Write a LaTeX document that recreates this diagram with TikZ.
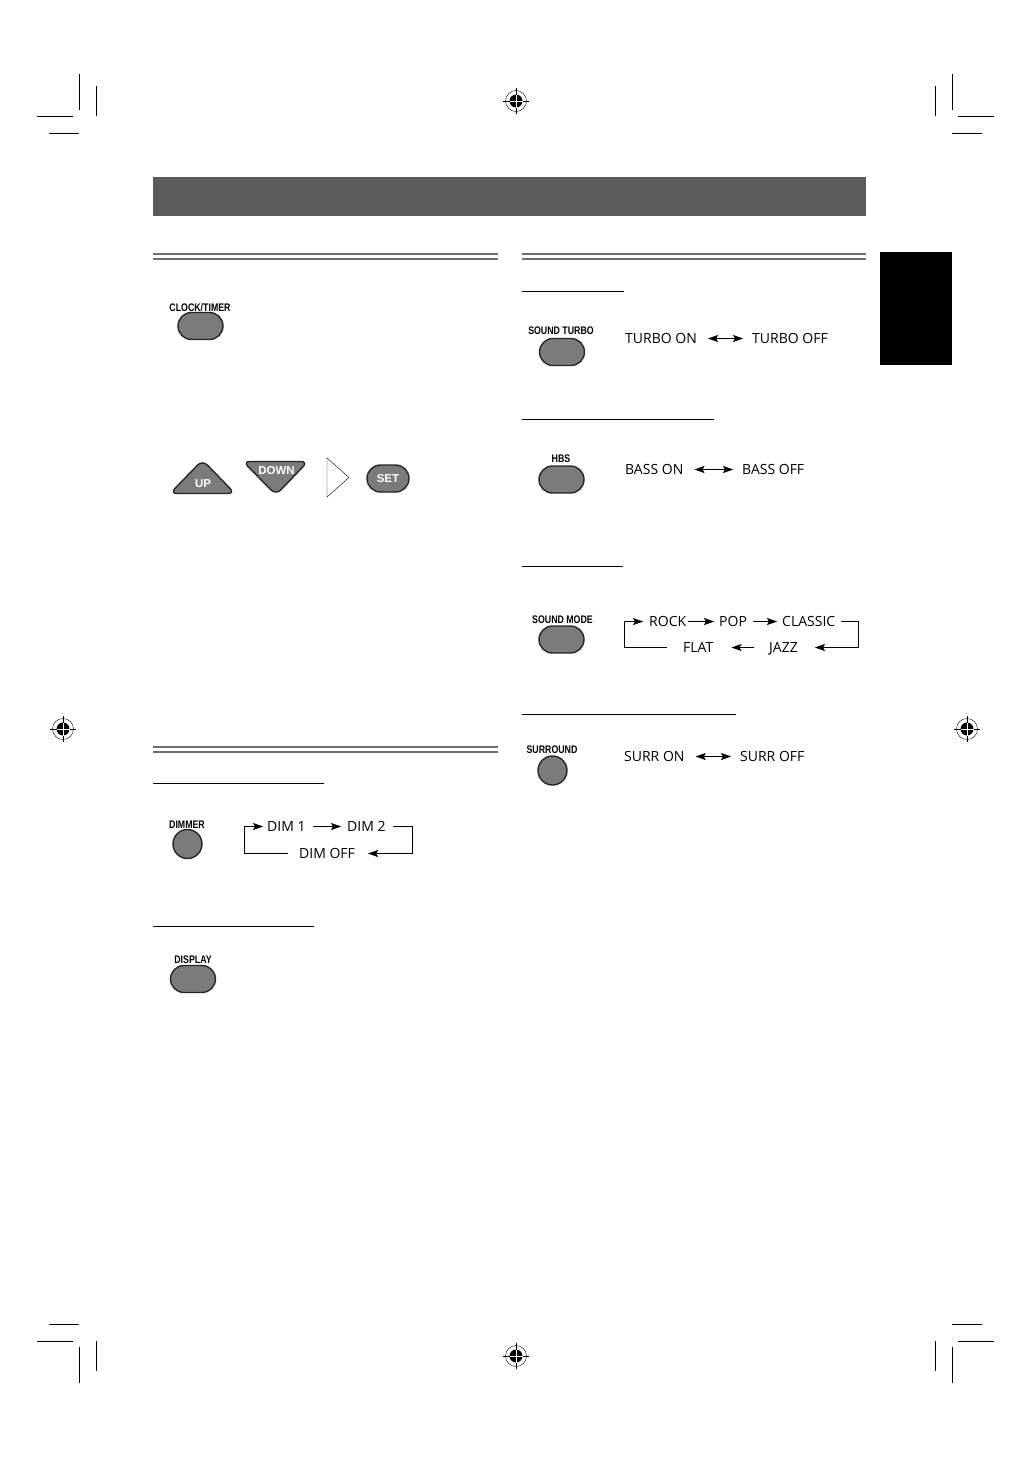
\documentclass[tikz,border=0pt]{standalone}
\usepackage{fontspec}
\setmainfont{Open Sans}
\newfontfamily\keyfont{Liberation Sans}[FakeStretch=0.8]
\newfontfamily\capfont{Liberation Sans}
\usetikzlibrary{arrows.meta,shapes.misc,positioning}
\definecolor{bargray}{HTML}{5B5B5B}
\definecolor{keygray}{HTML}{7B7B7B}
\definecolor{rulegray}{HTML}{6E6E6E}
\begin{document}
\begin{tikzpicture}[
                      x = 1pt, y = -1pt,
                      > = {Stealth[length=10pt,width=7pt,inset=2pt]},
        keyshape/.style = {draw=black!85, line width=1.4pt, fill=keygray},
             key/.style = {keyshape, rounded rectangle, minimum width=45pt,
                           minimum height=27pt, inner sep=0pt},
        roundkey/.style = {keyshape, circle, minimum size=29pt, inner sep=0pt},
         keyname/.style = {font=\keyfont\bfseries\fontsize{11}{11}\selectfont,
                           inner sep=0pt, anchor=base},
        keyinner/.style = {font=\capfont\bfseries\fontsize{11.5}{11.5}\selectfont,
                           text=white, inner sep=0pt},
        modetext/.style = {font=\fontsize{14}{14}\selectfont, inner sep=0pt,
                           text height=10pt, text depth=0pt, anchor=west},
     togglearrow/.style = {<->, thin, shorten <=11pt, shorten >=9pt},
        loopline/.style = {->, thin},
        thinrule/.style = {line width=1pt},
      doublerule/.style = {rulegray, line width=2pt},
            crop/.style = {line width=0.9pt},
            ]

    \useasboundingbox (0,0) rectangle (1032,1457);

    % crop marks in the four corners
    \foreach \sx/\sy/\ox/\oy in {1/1/0/0, -1/1/1031/0, 1/-1/0/1457, -1/-1/1031/1457}{
        \begin{scope}[shift={(\ox,\oy)}, xscale=\sx, yscale=\sy]
            \draw[crop] (79,74) -- (79,110);
            \draw[crop] (96,86) -- (96,116);
            \draw[crop] (37,116) -- (73,116);
            \draw[crop] (49,133) -- (79,133);
        \end{scope}
    }

    % registration marks
    \foreach \rx/\ry in {516/101, 516/1356, 63/729, 967/729}{
        \begin{scope}[shift={(\rx,\ry)}]
            \draw[line width=0.4pt] (0,0) circle[radius=10.5];
            \fill (0,0) circle[radius=6.5];
            \draw[line width=0.8pt] (-13,0) -- (13,0) (0,-13) -- (0,13);
            \draw[white, line width=0.6pt] (-6.5,0) -- (6.5,0) (0,-6.5) -- (0,6.5);
        \end{scope}
    }

    % title bar and side tab
    \fill[bargray] (153,177) rectangle (866,216);
    \fill[black] (880,252) rectangle (952,365);

    % section rules
    \foreach \xa/\xb/\yy in {153/498/254, 522/866/254, 153/498/747}{
        \draw[doublerule] (\xa,\yy) -- (\xb,\yy) (\xa,\yy+5) -- (\xb,\yy+5);
    }
    \foreach \xa/\xb/\yy in {522/624/291, 522/714/419, 522/623/566,
                             522/736/714, 153/324/783, 153/314/926}{
        \draw[thinrule] (\xa,\yy) -- (\xb,\yy);
    }

    % clock / timer
    \node[keyname] (clockname) at (200,311) {CLOCK/TIMER};
    \node[key] (clock) at (200.5,326) {};

    \filldraw[keyshape, rounded corners=7pt] (170,493.5) -- (202.5,460) -- (235,493.5) -- cycle;
    \node[keyinner] (up) at (203,483.5) {UP};
    \filldraw[keyshape, rounded corners=7pt] (243,461.5) -- (308,461.5) -- (276,495) -- cycle;
    \node[keyinner] (down) at (276.5,471) {DOWN};
    \draw[thin, fill=white] (327,458) -- (349,477.5) -- (327,497) -- cycle;
    \node[key, keyinner, minimum width=42pt] (set) at (388,478.5) {SET};

    % sound turbo
    \node[keyname] (turboname) at (561,334) {SOUND TURBO};
    \node[key] (turbo) at (562,352) {};
    \node[modetext] (turboon) at (625,338.5) {TURBO ON};
    \node[modetext] (turbooff) at (752,338.5) {TURBO OFF};
    \draw[togglearrow] (turboon) -- (turbooff);

    % hbs
    \node[keyname] (hbsname) at (561,462) {HBS};
    \node[key] (hbs) at (561.5,479.5) {};
    \node[modetext] (basson) at (625,469.5) {BASS ON};
    \node[modetext] (bassoff) at (742,469.5) {BASS OFF};
    \draw[togglearrow] (basson) -- (bassoff);

    % sound mode
    \node[keyname] (modename) at (562.5,623) {SOUND MODE};
    \node[key] (mode) at (561.5,639.5) {};
    \node[modetext] (rock) at (649,621.5) {ROCK};
    \node[modetext] (pop) at (719,621.5) {POP};
    \node[modetext] (classic) at (782,621.5) {CLASSIC};
    \node[modetext] (flat) at (683,647.5) {FLAT};
    \node[modetext] (jazz) at (769,647.5) {JAZZ};
    \coordinate (modeleft) at ([xshift=-25pt]rock.west);
    \coordinate (moderight) at ([xshift=23pt]classic.east);
    \draw[loopline, shorten <=2pt, shorten >=5pt] (rock) -- (pop);
    \draw[loopline, shorten <=6pt, shorten >=5pt] (pop) -- (classic);
    \draw[loopline, shorten >=17pt] ([xshift=6pt]classic.east) -| (moderight |- jazz.east) -- (jazz.east);
    \draw[loopline, shorten <=15pt, shorten >=18pt] (jazz) -- (flat);
    \draw[loopline, shorten >=6pt] ([xshift=-16pt]flat.west) -| (modeleft) -- (rock.west);

    % surround
    \node[keyname] (surrname) at (552,753) {SURROUND};
    \node[roundkey] (surr) at (552.5,770.5) {};
    \node[modetext] (surron) at (624,756.5) {SURR ON};
    \node[modetext] (surroff) at (740,756.5) {SURR OFF};
    \draw[togglearrow] (surron) -- (surroff);

    % dimmer
    \node[keyname] (dimname) at (187,828) {DIMMER};
    \node[roundkey] (dim) at (187.5,844) {};
    \node[modetext] (dimone) at (267,826.5) {DIM 1};
    \node[modetext] (dimtwo) at (347,826.5) {DIM 2};
    \node[modetext] (dimoff) at (299,853.5) {DIM OFF};
    \coordinate (dimleft) at ([xshift=-23pt]dimone.west);
    \coordinate (dimright) at ([xshift=26pt]dimtwo.east);
    \draw[loopline, shorten <=7pt, shorten >=6pt] (dimone) -- (dimtwo);
    \draw[loopline, shorten >=13pt] ([xshift=7pt]dimtwo.east) -| (dimright |- dimoff.east) -- (dimoff.east);
    \draw[loopline, shorten >=4pt] ([xshift=-11pt]dimoff.west) -| (dimleft) -- (dimone.west);

    % display
    \node[keyname] (dispname) at (193,963) {DISPLAY};
    \node[key] (disp) at (193,979) {};
\end{tikzpicture}
\end{document}
